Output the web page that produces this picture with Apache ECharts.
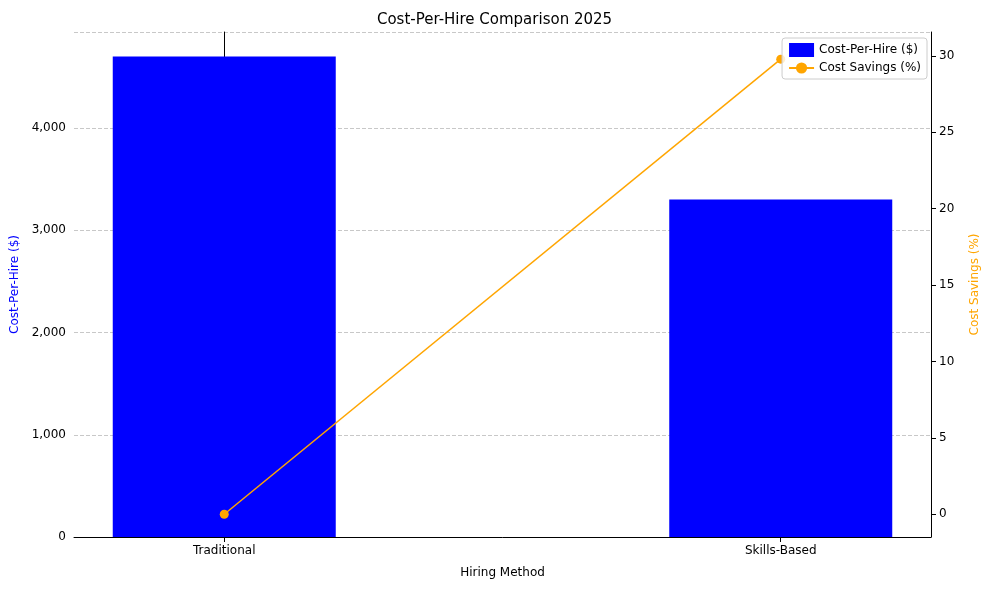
<!DOCTYPE html>
<html>
<head>
<meta charset="utf-8">
<script src="https://cdn.jsdelivr.net/npm/echarts@6/dist/echarts.min.js"></script>
<style>html,body{margin:0;padding:0;background:#fff}#chart{width:989px;height:590px}</style>
</head>
<body>
<div id="chart"></div>
<script>
const categories = ['Traditional', 'Skills-Based']
const costPerHire = [4700, 3300]
const costSavings = [0, 29.79]
const savingsTicks = [0, 5, 10, 15, 20, 25, 30]

const chart = echarts.init(document.getElementById('chart'))
const font = 'DejaVu Sans'

chart.setOption({
  animation: false,
  textStyle: { fontFamily: font },
  title: {
    text: 'Cost-Per-Hire Comparison 2025',
    left: 'center', top: 8,
    textStyle: { fontSize: 15, fontWeight: 'normal', color: '#000', fontFamily: font }
  },
  legend: {
    right: 62, top: 38, orient: 'vertical',
    backgroundColor: 'rgba(255,255,255,0.8)',
    borderColor: '#ccc', borderWidth: 1, borderRadius: 3,
    padding: [5, 6], itemGap: 5,
    textStyle: { fontSize: 12, color: '#000' },
    data: [
      { name: 'Cost-Per-Hire ($)', icon: 'rect', itemStyle: { color: 'blue' } },
      { name: 'Cost Savings (%)' }
    ]
  },
  grid: { left: 74, right: 57, top: 32, bottom: 53 },
  xAxis: {
    type: 'value', min: -0.27, max: 1.27,
    name: 'Hiring Method', nameLocation: 'middle', nameGap: 30,
    nameTextStyle: { fontSize: 12, color: '#000' },
    splitLine: { show: false },
    axisLine: { show: true, onZero: false, lineStyle: { color: '#000' } },
    axisTick: { show: true, customValues: [0, 1], lineStyle: { color: '#000' } },
    axisLabel: { customValues: [0, 1], color: '#000', fontSize: 12,
      formatter: v => categories[Math.round(v)] }
  },
  yAxis: [
    {
      type: 'value', min: 0, max: 4939, interval: 1000,
      name: 'Cost-Per-Hire ($)', nameLocation: 'middle', nameGap: 50, nameRotate: 90,
      nameTextStyle: { color: 'blue', fontSize: 12 },
      axisLine: { show: true, lineStyle: { color: '#000' } },
      axisTick: { show: true },
      axisLabel: { color: '#000', fontSize: 12, showMaxLabel: false },
      splitLine: { show: true, lineStyle: { type: 'dashed', color: '#c8c8c8' } }
    },
    {
      type: 'value', min: -1.49, max: 31.57,
      name: 'Cost Savings (%)', nameLocation: 'middle', nameGap: 38, nameRotate: 90,
      nameTextStyle: { color: 'orange', fontSize: 12 },
      axisLine: { show: true, lineStyle: { color: '#000' } },
      axisTick: { show: true, customValues: savingsTicks },
      axisLabel: { color: '#000', fontSize: 12, customValues: savingsTicks },
      splitLine: { show: false }
    }
  ],
  series: [
    {
      name: 'Cost-Per-Hire ($)', type: 'bar', barWidth: 223,
      itemStyle: { color: 'blue' },
      data: costPerHire.map((v, i) => [i, v])
    },
    {
      name: 'Cost Savings (%)', type: 'line', yAxisIndex: 1,
      symbol: 'circle', symbolSize: 9,
      itemStyle: { color: 'orange' }, lineStyle: { color: 'orange', width: 1.5 },
      data: costSavings.map((v, i) => [i, v])
    }
  ]
})
</script>
</body>
</html>
